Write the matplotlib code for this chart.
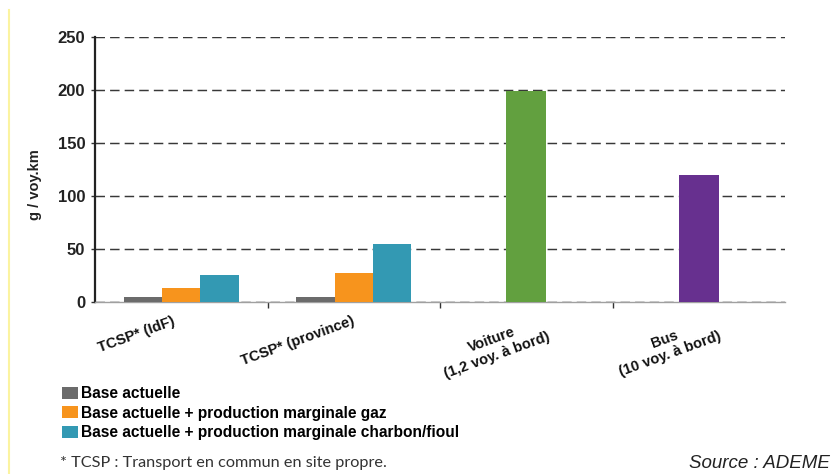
import matplotlib
matplotlib.use("Agg")
import matplotlib.pyplot as plt
import matplotlib.transforms as mtransforms
from matplotlib import font_manager
from matplotlib.lines import Line2D
import numpy as np

# data (g / voy.km)
categories = ['TCSP* (IdF)', 'TCSP* (province)',
              'Voiture\n(1,2 voy. à bord)', 'Bus\n(10 voy. à bord)']
base_actuelle = [4.5, 4.5]
marginale_gaz = [13, 27]
marginale_charbon = [25, 54]
voiture = [199]
bus = [120]
series_labels = ['Base actuelle',
                 'Base actuelle + production marginale gaz',
                 'Base actuelle + production marginale charbon/fioul']
yticks = [0, 50, 100, 150, 200, 250]

# the original uses a narrow bold face; take a narrow one if there is one
names = {f.name for f in font_manager.fontManager.ttflist}
if 'Liberation Sans Narrow' in names:
    main_font = 'Liberation Sans Narrow'
elif 'DejaVu Sans Condensed' in names:
    main_font = 'DejaVu Sans Condensed'
else:
    main_font = 'Liberation Sans'
narrow = [main_font, 'DejaVu Sans']
plt.rcParams['font.family'] = narrow

fig = plt.figure(figsize=(8.34, 4.74), dpi=100)
ax = fig.add_axes([95 / 834, 1 - 301.7 / 474, 690 / 834, 265 / 474])

w = 0.222
x_tcsp = np.arange(2)
b1 = ax.bar(x_tcsp - w, base_actuelle, w, color='#6b6b6b', label=series_labels[0], zorder=3)
b2 = ax.bar(x_tcsp, marginale_gaz, w, color='#f7941d', label=series_labels[1], zorder=3)
b3 = ax.bar(x_tcsp + w, marginale_charbon, w, color='#3399b3', label=series_labels[2], zorder=3)
ax.bar([2], voiture, 0.23, color='#62a03f', zorder=3)
ax.bar([3], bus, 0.23, color='#67308f', zorder=3)

ax.set_xlim(-0.5, 3.5)
ax.set_ylim(0, 250)
ax.set_yticks(yticks)
ax.set_yticklabels([str(v) for v in yticks], fontsize=12, fontweight='bold', color='#222222')
ax.tick_params(axis='y', length=3, width=1, color='#333333', pad=4)

ax.yaxis.grid(True, linestyle=(0, (6.5, 3.5)), linewidth=1.05, color='#383838', zorder=1)
ax.set_axisbelow(True)

# category labels as tick labels, boundary ticks as minor ticks
ax.set_xticks(range(len(categories)))
ax.set_xticklabels(categories, rotation=20, ha='right', va='top', rotation_mode='anchor',
                   multialignment='center', fontsize=10.5, fontweight='bold', color='#111111')
ax.tick_params(axis='x', which='major', length=0, pad=9)
ax.set_xticks([0.5, 1.5, 2.5], minor=True)
ax.tick_params(axis='x', which='minor', length=4, width=1, color='#333333', direction='out')
shifts = [(-9, 0), (-2, 0), (15, 0), (14, 0)]
for lab, (dx, dy) in zip(ax.get_xticklabels(), shifts):
    lab.set_transform(lab.get_transform() + mtransforms.ScaledTranslation(dx / 100, dy / 100, fig.dpi_scale_trans))

for s in ['top', 'right']:
    ax.spines[s].set_visible(False)
ax.spines['left'].set_color('#222222')
ax.spines['left'].set_linewidth(1.6)
ax.spines['bottom'].set_color('#a0a0a0')
ax.spines['bottom'].set_linewidth(1.0)

fig.text(35 / 834, 1 - 185 / 474, 'g / voy.km', rotation=90, ha='center', va='center',
         fontsize=10.5, fontweight='bold', color='#222222')

fig.legend(handles=[b1, b2, b3], labels=series_labels, loc='upper left',
           bbox_to_anchor=(62 / 834, 1 - 386 / 474), frameon=False,
           prop={'family': narrow, 'weight': 'bold', 'size': 11.2},
           handlelength=1.0, handleheight=0.8, handletextpad=0.25,
           labelspacing=0.3, borderaxespad=0, borderpad=0)

fig.text(60 / 834, 1 - 463 / 474, '* TCSP : Transport en commun en site propre.',
         ha='left', va='center', fontsize=11.7, family=['Lato', 'DejaVu Sans'], color='#333333')
fig.text(830 / 834, 1 - 463 / 474, 'Source : ADEME', ha='right', va='center',
         fontsize=13.5, style='italic', family=['Liberation Sans', 'DejaVu Sans'], color='#222222')

# thin yellow margin line on the left of the page
fig.add_artist(Line2D([9 / 834, 9 / 834], [0, 1 - 10 / 474], transform=fig.transFigure,
                      color='#fbf3a0', linewidth=1.5))

fig.savefig('out.png', dpi=100)
